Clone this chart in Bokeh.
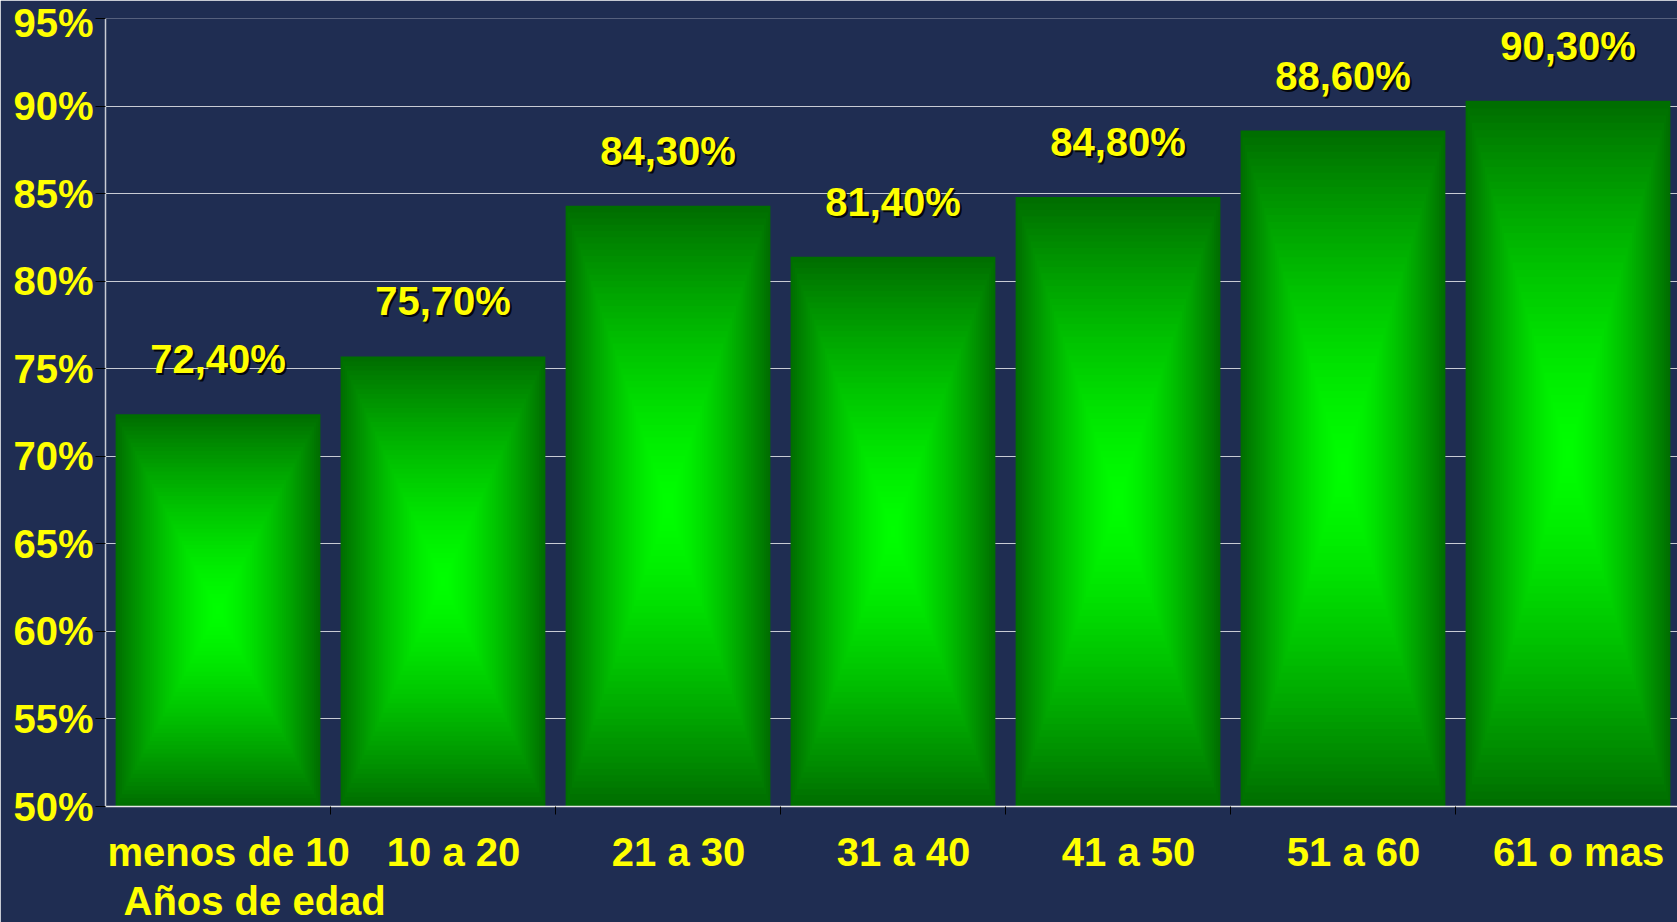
from bokeh.plotting import figure
from bokeh.models import Range1d, FixedTicker, PrintfTickFormatter, Title
from bokeh.core.properties import value
from bokeh.embed import file_html
from bokeh.resources import INLINE

# ---------------- data ----------------
categories = ["menos de 10", "10 a 20", "21 a 30", "31 a 40", "41 a 50", "51 a 60", "61 o mas"]
percent = [72.4, 75.7, 84.3, 81.4, 84.8, 88.6, 90.3]
y_ticks = [50, 55, 60, 65, 70, 75, 80, 85, 90, 95]
x_title = "Años de edad"

# ---------------- style ----------------
BG = "#1F2D52"
YELLOW = "#FFFF00"
FONT = "Liberation Sans"
FS = "40px"
EDGE = (0x00, 0x6E, 0x00)
CENTER = (0x00, 0xFF, 0x00)
GRAD_EXP = 1.4
N_LAYERS = 48
BAR_W = 0.91
W, H = 1677, 922
BORDER_L, BORDER_T, BORDER_B = 105, 18, 116
CAT_PX = 225          # width of one category slot in pixels
LABEL_GAP_PX = 55
SHADOW_PX = 2
LABEL_SHIFT = 0.047   # x tick labels sit slightly right of category centre

Y0, Y1 = y_ticks[0], y_ticks[-1]
X1 = (W - BORDER_L) / CAT_PX   # plot area runs off the right edge, as in the original
frame_h = H - BORDER_T - BORDER_B
px_to_y = (Y1 - Y0) / frame_h

p = figure(width=W, height=H, x_range=Range1d(0, X1), y_range=Range1d(Y0, Y1),
           output_backend="svg", toolbar_location=None,
           min_border_left=BORDER_L, min_border_right=0,
           min_border_top=BORDER_T, min_border_bottom=BORDER_B,
           background_fill_color=BG, border_fill_color=BG, outline_line_color=None)

# ---------------- gradient bars (nested rectangles) ----------------
xs, ys, ws, hs, cs = [], [], [], [], []
for k in range(N_LAYERS):
    s = 1 - k / N_LAYERS
    f = 1 - s ** GRAD_EXP
    col = "#%02x%02x%02x" % tuple(int(round(e + (c - e) * f)) for e, c in zip(EDGE, CENTER))
    for i, v in enumerate(percent):
        xs.append(i + 0.5)
        ys.append((Y0 + v) / 2)
        ws.append(BAR_W * s)
        hs.append((v - Y0) * s)
        cs.append(col)
p.rect(x=xs, y=ys, width=ws, height=hs, fill_color=cs, line_color=None)

# ---------------- data labels ----------------
label_text = [f"{v:.2f}%".replace(".", ",") for v in percent]
lx = [i + 0.5 for i in range(len(percent))]
ly = [v + LABEL_GAP_PX * px_to_y for v in percent]
common = dict(text_align="center", text_baseline="middle", text_font=value(FONT),
              text_font_size=FS, text_font_style="bold")
p.text(x=lx, y=[y - SHADOW_PX * px_to_y for y in ly], text=label_text, x_offset=SHADOW_PX,
       text_color="#000000", text_alpha=0.85, **common)
p.text(x=lx, y=ly, text=label_text, text_color=YELLOW, **common)

# ---------------- grid ----------------
p.xgrid.visible = False
p.ygrid.ticker = FixedTicker(ticks=y_ticks)
p.ygrid.grid_line_color = "#C8CBD4"
p.ygrid.grid_line_width = 1

# ---------------- y axis ----------------
ya = p.yaxis[0]
ya.ticker = FixedTicker(ticks=y_ticks)
ya.formatter = PrintfTickFormatter(format="%d%%")
ya.major_label_text_font = FONT
ya.major_label_text_font_size = FS
ya.major_label_text_font_style = "bold"
ya.major_label_text_color = YELLOW
ya.major_tick_out = 10
ya.major_tick_in = 0
ya.major_tick_line_color = "#000000"
ya.minor_tick_line_color = None
ya.major_label_standoff = 2
ya.axis_line_color = "#C8CBD4"
ya.axis_line_width = 1.5

# ---------------- x axis ----------------
xa = p.xaxis[0]
label_pos = [round(i + 0.5 + LABEL_SHIFT, 4) for i in range(len(categories))]
boundaries = list(range(1, len(categories)))
xa.ticker = FixedTicker(ticks=label_pos, minor_ticks=boundaries)
xa.major_label_overrides = {pos: name for pos, name in zip(label_pos, categories)}
xa.major_tick_line_color = None
xa.major_tick_out = 0
xa.major_tick_in = 0
xa.minor_tick_out = 8
xa.minor_tick_in = 0
xa.minor_tick_line_color = "#000000"
xa.major_label_standoff = 15
xa.major_label_text_font = FONT
xa.major_label_text_font_size = FS
xa.major_label_text_font_style = "bold"
xa.major_label_text_color = YELLOW
xa.major_label_text_line_height = 1.0
xa.axis_line_color = "#E8E8E8"
xa.axis_line_width = 1.5

# ---------------- x title ----------------
p.add_layout(Title(text=x_title, align="left", offset=18, standoff=0,
                   text_font=FONT, text_font_size=FS, text_font_style="bold",
                   text_line_height=1.0, text_color=YELLOW), "below")

open("out.html", "w").write(file_html(p, INLINE))
